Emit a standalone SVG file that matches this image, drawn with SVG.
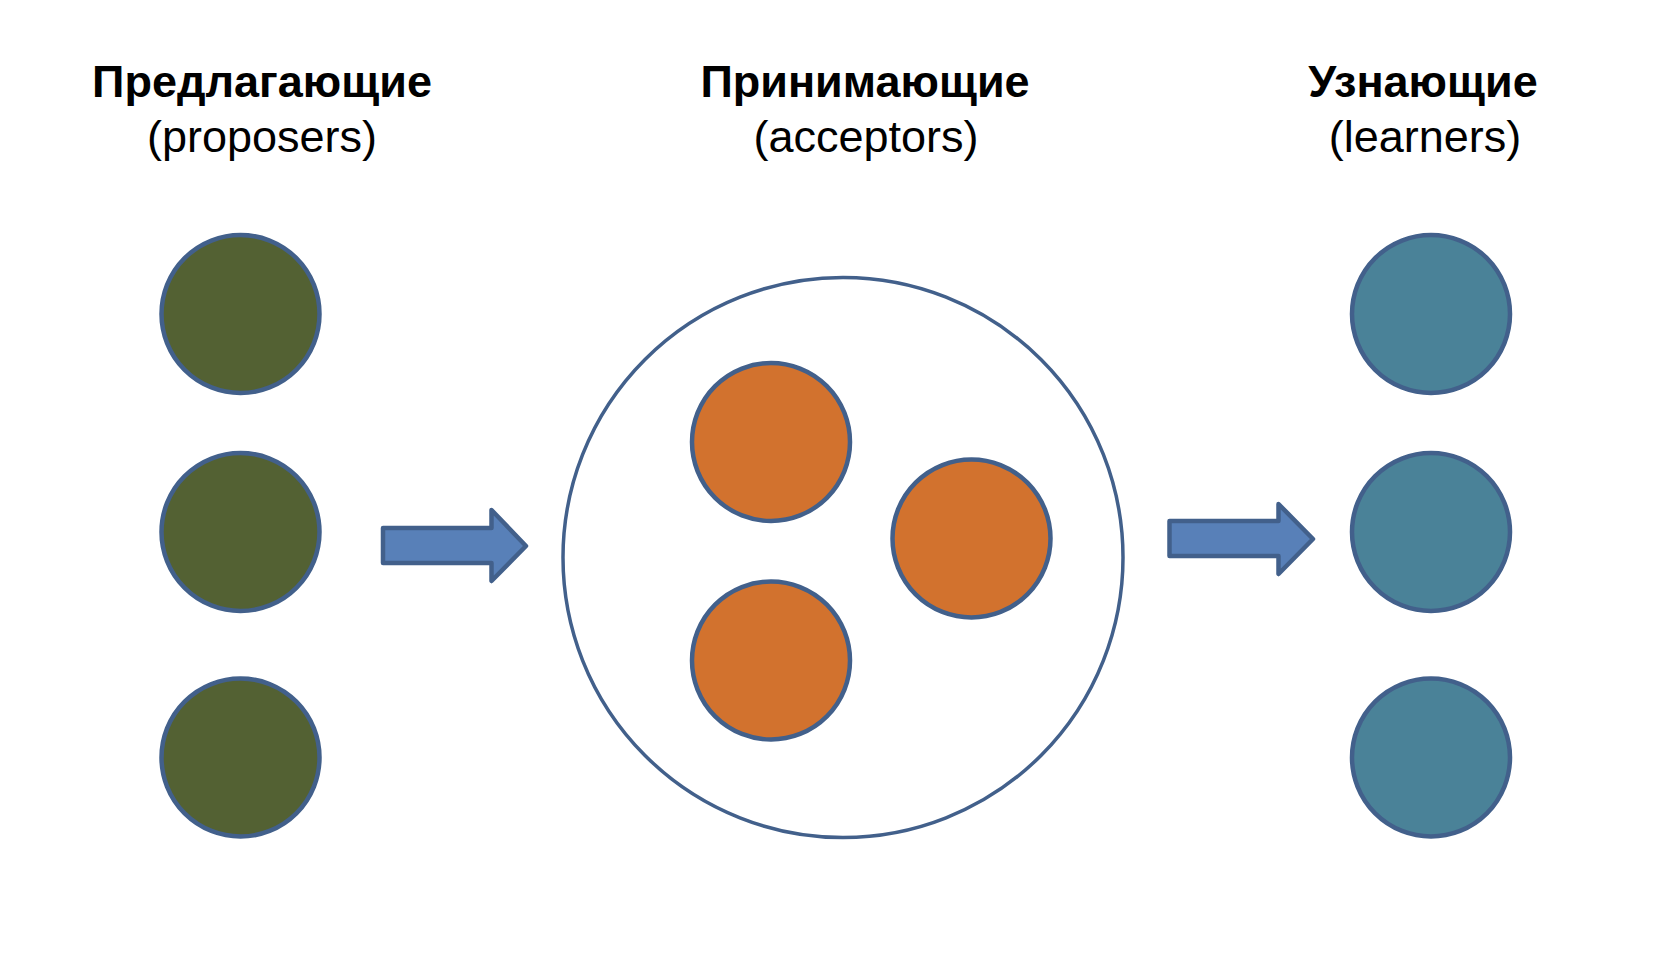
<svg xmlns="http://www.w3.org/2000/svg" width="1658" height="966" viewBox="0 0 1658 966">
<style>
.t{font-family:"Liberation Sans",Arial,sans-serif;font-weight:bold;font-size:45px;fill:#000;text-anchor:middle}
.s{font-family:"Liberation Sans",Arial,sans-serif;font-size:45px;fill:#000;text-anchor:middle}
.p{fill:#536133;stroke:#42608B;stroke-width:4.5}
.a{fill:#D2722E;stroke:#42608B;stroke-width:4.5}
.l{fill:#4A8298;stroke:#42608B;stroke-width:4.5}
.g{fill:#fff;stroke:#42608B;stroke-width:3.5}
.arr{fill:#5880B8;stroke:#42608B;stroke-width:4.5;stroke-linejoin:round}
</style>
<rect width="1658" height="966" fill="#fff"/>
<g id="label-proposers"><text class="t" x="262" y="97">Предлагающие</text><text class="s" x="262" y="152">(proposers)</text></g>
<g id="label-acceptors"><text class="t" x="865" y="97">Принимающие</text><text class="s" x="866" y="152">(acceptors)</text></g>
<g id="label-learners"><text class="t" x="1423" y="97">Узнающие</text><text class="s" x="1425" y="152">(learners)</text></g>
<g id="proposer1"><circle class="p" cx="240.5" cy="314" r="79"/></g>
<g id="proposer2"><circle class="p" cx="240.5" cy="532" r="79"/></g>
<g id="proposer3"><circle class="p" cx="240.5" cy="757.5" r="79"/></g>
<g id="acceptor-group"><circle class="g" cx="843" cy="557.5" r="280"/></g>
<g id="acceptor1"><circle class="a" cx="771" cy="442" r="79"/></g>
<g id="acceptor2"><circle class="a" cx="971.5" cy="538.5" r="79"/></g>
<g id="acceptor3"><circle class="a" cx="771" cy="660.5" r="79"/></g>
<g id="learner1"><circle class="l" cx="1431" cy="314" r="79"/></g>
<g id="learner2"><circle class="l" cx="1431" cy="532" r="79"/></g>
<g id="learner3"><circle class="l" cx="1431" cy="757.5" r="79"/></g>
<g id="connectors">
<path class="arr" d="M383 528 H491.5 V510 L526 546 L491.5 581 V563 H383 Z"/>
<path class="arr" d="M1169.5 521 H1278.5 V504 L1313 539 L1278.5 574 V556 H1169.5 Z"/>
</g>
</svg>
